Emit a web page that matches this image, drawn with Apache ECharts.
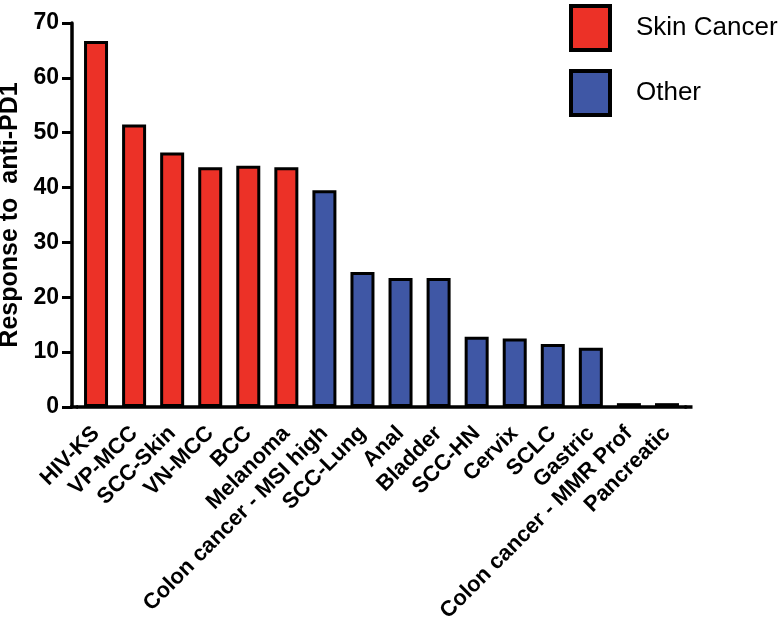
<!DOCTYPE html>
<html>
<head>
<meta charset="utf-8">
<script src="https://cdn.jsdelivr.net/npm/echarts@6/dist/echarts.min.js"></script>
<style>
html,body{margin:0;padding:0;background:#fff;}
#chart{width:779px;height:624px;}
</style>
</head>
<body>
<div id="chart"></div>
<script>
const categories = ['HIV-KS','VP-MCC','SCC-Skin','VN-MCC','BCC','Melanoma','Colon cancer - MSI high','SCC-Lung','Anal','Bladder','SCC-HN','Cervix','SCLC','Gastric','Colon cancer - MMR Prof','Pancreatic'];
const skinCancerValues = [66.7, 51.5, 46.4, 43.7, 44.0, 43.7];
const otherValues = [39.5, 24.6, 23.5, 23.5, 12.8, 12.5, 11.5, 10.8, 0.7, 0.7];
const yTicks = { min: 0, max: 70, interval: 10 };
const seriesNames = ['Skin Cancer', 'Other'];

const FONT = '"Liberation Sans", Arial, Helvetica, sans-serif';
const skinData = categories.map((c, i) => i < skinCancerValues.length ? skinCancerValues[i] : null);
const otherData = categories.map((c, i) => i >= skinCancerValues.length ? otherValues[i - skinCancerValues.length] : null);

const chart = echarts.init(document.getElementById('chart'), null, { renderer: 'canvas' });
chart.setOption({
  animation: false,
  backgroundColor: '#ffffff',
  grid: { left: 77, right: 93, top: 23, bottom: 217, containLabel: false, outerBoundsMode: 'none' },
  legend: {
    orient: 'vertical',
    left: 569, top: 4,
    padding: 0,
    itemWidth: 39, itemHeight: 44, itemGap: 17,
    icon: 'rect',
    itemStyle: { borderColor: '#000', borderWidth: 4 },
    textStyle: { fontFamily: FONT, fontSize: 26, color: '#000', padding: [0, 0, 0, 21] },
    data: seriesNames
  },
  xAxis: {
    type: 'category',
    data: categories,
    axisLine: {
      lineStyle: { color: '#000', width: 3.5 },
      symbol: ['rect', 'rect'], symbolSize: [3.5, 8], symbolOffset: [-3, 2.5]
    },
    axisTick: { alignWithLabel: true, length: 11, lineStyle: { color: '#000', width: 3 } },
    axisLabel: { rotate: 45, margin: 23, interval: 0, fontFamily: FONT, fontSize: 22, fontWeight: 'bold', color: '#000' },
    splitLine: { show: false }
  },
  yAxis: {
    type: 'value',
    min: yTicks.min, max: yTicks.max, interval: yTicks.interval,
    offset: 5,
    name: 'Response to  anti-PD1',
    nameLocation: 'middle', nameRotate: 90, nameGap: 41,
    nameTextStyle: { fontFamily: FONT, fontSize: 25, fontWeight: 'bold', color: '#000' },
    axisLine: { show: true, lineStyle: { color: '#000', width: 3.5 } },
    axisTick: { show: true, length: 10, lineStyle: { color: '#000', width: 3 } },
    axisLabel: { margin: 13, fontFamily: FONT, fontSize: 23, fontWeight: 'bold', color: '#000' },
    splitLine: { show: false }
  },
  series: [
    {
      name: seriesNames[0], type: 'bar', data: skinData, barWidth: 24, barGap: '-100%',
      itemStyle: { color: '#EC3127', borderColor: '#000', borderWidth: 3 }
    },
    {
      name: seriesNames[1], type: 'bar', data: otherData, barWidth: 24, barGap: '-100%',
      itemStyle: { color: '#3F57A5', borderColor: '#000', borderWidth: 3 }
    }
  ]
});
</script>
</body>
</html>
